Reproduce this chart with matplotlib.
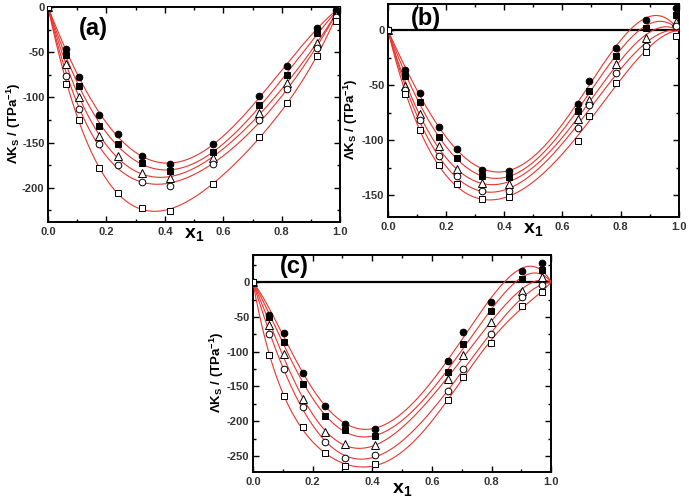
import numpy as np
import matplotlib
matplotlib.use('Agg')
import matplotlib.pyplot as plt
from matplotlib.ticker import MultipleLocator

plt.rcParams['font.family'] = ['Liberation Sans', 'DejaVu Sans']
plt.rcParams['font.weight'] = 'bold'
plt.rcParams['axes.unicode_minus'] = False
plt.rcParams['mathtext.fontset'] = 'custom'
plt.rcParams['mathtext.rm'] = 'Liberation Sans:bold'
plt.rcParams['mathtext.it'] = 'Liberation Sans:bold'
plt.rcParams['mathtext.bf'] = 'Liberation Sans:bold'

# === data ===
# series order: filled circle, filled square, open triangle, open circle, open square
x_a = [0.0, 0.061, 0.106, 0.175, 0.240, 0.322, 0.417, 0.566, 0.723, 0.817, 0.922, 0.986]
y_a_fc = [0, -46, -78, -120, -141, -165, -174, -152, -99, -65, -23, -3]
y_a_fs = [0, -53, -87, -132, -152, -173, -181, -161, -109, -75, -29, -6]
y_a_tri = [0, -63, -100, -143, -165, -184, -189, -167, -117, -84, -40, -9]
y_a_oc = [0, -76, -113, -152, -175, -194, -198, -174, -125, -91, -45, -11]
y_a_sq = [0, -85, -125, -178, -206, -222, -226, -196, -144, -106, -54, -16]

x_b = [0.0, 0.059, 0.109, 0.176, 0.236, 0.324, 0.416, 0.653, 0.692, 0.785, 0.888, 0.992]
y_b_fc = [0, -36, -57, -88, -108, -127, -128, -67, -46, -16, 9, 20]
y_b_fs = [0, -42, -65, -97, -116, -133, -134, -73, -55, -23, 2, 14]
y_b_tri = [0, -51, -76, -105, -126, -139, -140, -81, -63, -31, -7, 8]
y_b_oc = [0, -54, -82, -114, -133, -146, -146, -89, -68, -39, -14, 4]
y_b_sq = [0, -58, -91, -123, -140, -154, -152, -101, -78, -48, -20, -5]

x_c = [0.0, 0.053, 0.106, 0.169, 0.241, 0.308, 0.411, 0.653, 0.706, 0.798, 0.902, 0.969]
y_c_fc = [0, -47, -73, -130, -178, -204, -211, -114, -71, -29, 16, 28]
y_c_fs = [0, -50, -86, -146, -193, -213, -221, -129, -89, -42, 4, 17]
y_c_tri = [0, -62, -104, -168, -216, -233, -234, -139, -105, -57, -13, 8]
y_c_oc = [0, -75, -125, -180, -230, -253, -248, -157, -125, -74, -22, -4]
y_c_sq = [0, -105, -164, -209, -246, -265, -262, -169, -136, -87, -35, -14]

markers = [('o', 'black'), ('s', 'black'), ('^', 'white'), ('o', 'white'), ('s', 'white')]
RED = '#e8352e'


def rk_fit(x, y, n):
    # Redlich-Kister fit: y = x(1-x) * sum A_k (2x-1)^k
    x = np.asarray(x, float)
    y = np.asarray(y, float)
    M = np.column_stack([x * (1 - x) * (2 * x - 1) ** k for k in range(n)])
    A = np.linalg.lstsq(M, y, rcond=None)[0]
    xs = np.linspace(0, 1, 300)
    Ms = np.column_stack([xs * (1 - xs) * (2 * xs - 1) ** k for k in range(n)])
    return xs, Ms @ A


def panel(ax, x, ys, ylim, label, lpos, nterms, zero_line, ylab_x, xlab_y):
    if zero_line:
        ax.axhline(0, color='black', lw=1.6, zorder=2)
    for y in ys:
        xs, yf = rk_fit(x, y, nterms)
        ax.plot(xs, yf, color=RED, lw=0.8, zorder=3)
    for y, (m, fc) in zip(ys, markers):
        ax.plot(x, y, ls='none', marker=m, ms=4.8 if m != '^' else 5.3,
                mfc=fc, mec='black', mew=0.7, zorder=4)
    ax.set_xlim(0, 1)
    ax.set_ylim(*ylim)
    ax.xaxis.set_major_locator(MultipleLocator(0.2))
    ax.xaxis.set_minor_locator(MultipleLocator(0.1))
    ax.yaxis.set_major_locator(MultipleLocator(50))
    ax.yaxis.set_minor_locator(MultipleLocator(25))
    ax.tick_params(which='both', direction='in', top=True, right=True,
                   labelsize=8, labelcolor='#333333', width=1)
    ax.tick_params(which='major', length=4)
    ax.tick_params(which='minor', length=2)
    ax.tick_params(axis='y', pad=2.5)
    ax.xaxis.set_major_formatter(plt.FuncFormatter(lambda v, p: f'{v:.1f}'))
    ax.yaxis.set_major_formatter(plt.FuncFormatter(lambda v, p: f'{v:.0f}'))
    for s in ax.spines.values():
        s.set_linewidth(1.4)
    ax.set_ylabel(r'ΛK$_S$ / (TPa$^{-1}$)', fontsize=9.5, fontweight='bold')
    ax.yaxis.set_label_coords(ylab_x, 0.46)
    ax.set_xlabel(r'x$_1$', fontsize=14, fontweight='bold')
    ax.xaxis.set_label_coords(0.5, xlab_y)
    ax.text(lpos[0], lpos[1], label, transform=ax.transAxes, fontsize=17,
            fontweight='bold', ha='left', va='center')


fig = plt.figure(figsize=(6.89, 5.0), dpi=100)
ax_a = fig.add_axes([0.0697, 0.556, 0.424, 0.43])
ax_b = fig.add_axes([0.563, 0.566, 0.422, 0.426])
ax_c = fig.add_axes([0.367, 0.056, 0.433, 0.434])

panel(ax_a, x_a, [y_a_fc, y_a_fs, y_a_tri, y_a_oc, y_a_sq], (-238, 0), '(a)',
      (0.105, 0.9), 4, False, -0.085, -0.02)
panel(ax_b, x_b, [y_b_fc, y_b_fs, y_b_tri, y_b_oc, y_b_sq], (-170, 24), '(b)',
      (0.08, 0.93), 4, True, -0.095, -0.02)
panel(ax_c, x_c, [y_c_fc, y_c_fs, y_c_tri, y_c_oc, y_c_sq], (-273, 39), '(c)',
      (0.09, 0.945), 5, True, -0.09, -0.04)

fig.savefig('out.png', dpi=100)
